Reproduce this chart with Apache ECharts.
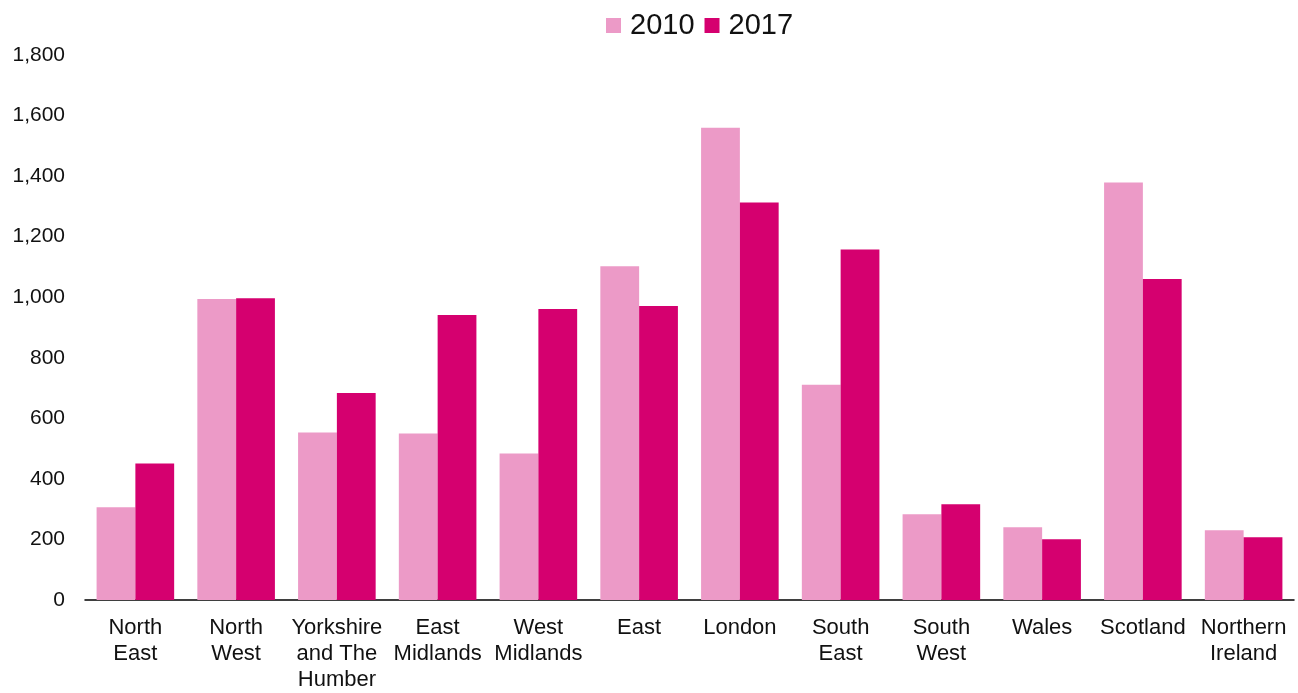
<!DOCTYPE html>
<html>
<head>
<meta charset="utf-8">
<script src="https://cdn.jsdelivr.net/npm/echarts@6/dist/echarts.min.js"></script>
<style>
  html, body { margin: 0; padding: 0; background: #fff; overflow: hidden; }
  #chart { width: 1298px; height: 693px; }
</style>
</head>
<body>
<div id="chart"></div>
<script>
// Regions (multi-line labels as shown under each bar pair)
const regions = [
  'North\nEast', 'North\nWest', 'Yorkshire\nand The\nHumber', 'East\nMidlands',
  'West\nMidlands', 'East', 'London', 'South\nEast', 'South\nWest', 'Wales',
  'Scotland', 'Northern\nIreland'
];
const values2010 = [306, 994, 553, 550, 484, 1102, 1560, 711, 283, 240, 1379, 230];
const values2017 = [451, 997, 684, 941, 961, 971, 1313, 1158, 316, 201, 1060, 207];
const seriesNames = ['2010', '2017'];
const yTicks = { min: 0, max: 1800, step: 200 };

const textColor = '#111';
const font = 'Arial, "Liberation Sans", sans-serif';

const chart = echarts.init(document.getElementById('chart'), null, { renderer: 'canvas' });
chart.setOption({
  animation: false,
  color: ['#EC9AC7', '#D5006F'],
  legend: {
    top: 6,
    left: 601,
    itemWidth: 15,
    itemHeight: 15,
    itemGap: 10,
    icon: 'rect',
    textStyle: { fontSize: 29, color: textColor, fontFamily: font, padding: [0, 0, 0, 4] },
    data: seriesNames
  },
  grid: { left: 85, right: 4, top: 55, bottom: 91, containLabel: false },
  xAxis: {
    type: 'category',
    data: regions,
    axisLine: { show: true, lineStyle: { color: '#000', width: 1.5 } },
    axisTick: { show: false },
    axisLabel: {
      interval: 0,
      margin: 15,
      fontSize: 22,
      lineHeight: 26,
      color: textColor,
      fontFamily: font,
      align: 'center'
    }
  },
  yAxis: {
    type: 'value',
    min: yTicks.min,
    max: yTicks.max,
    interval: yTicks.step,
    axisLine: { show: false },
    axisTick: { show: false },
    splitLine: { show: false },
    axisLabel: {
      margin: 20,
      fontSize: 21,
      color: textColor,
      fontFamily: font,
      formatter: v => v.toLocaleString('en-US')
    }
  },
  series: [
    {
      name: seriesNames[0],
      type: 'bar',
      data: values2010,
      barGap: '0%',
      barCategoryGap: '23%'
    },
    {
      name: seriesNames[1],
      type: 'bar',
      data: values2017,
      barGap: '0%',
      barCategoryGap: '23%'
    }
  ]
});
</script>
</body>
</html>
